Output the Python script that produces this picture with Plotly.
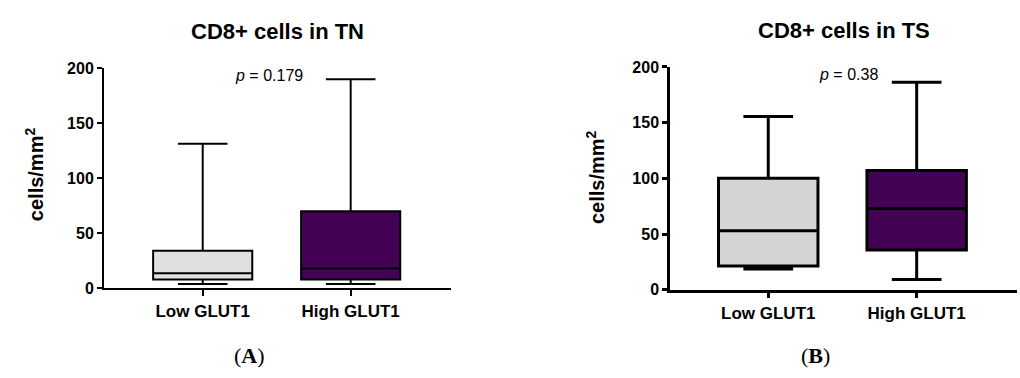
import plotly.graph_objects as go

W, H = 1020, 378

groups = ["Low GLUT1", "High GLUT1"]
group_pos = [0, 1]

# CD8+ density in TN (cells/mm^2): box summary per GLUT1 group
tn_lower = [3.7, 3.7]
tn_q1 = [7.8, 7.8]
tn_median = [13.6, 17.9]
tn_q3 = [33.9, 70.0]
tn_upper = [131.3, 190.0]

# CD8+ density in TS (cells/mm^2)
ts_lower = [18.6, 9.2]
ts_q1 = [21.4, 35.7]
ts_median = [52.9, 72.9]
ts_q3 = [100.0, 107.0]
ts_upper = [155.4, 186.3]

p_values = ["0.179", "0.38"]
titles = ["CD8+ cells in TN", "CD8+ cells in TS"]
panel_tags = ["A", "B"]
y_ticks = [0, 50, 100, 150, 200]

LOW_FILLS = ["#e0e0e0", "#d4d4d4"]
HIGH_FILL = "#430253"
SANS = "Liberation Sans, Arial, sans-serif"
SERIF = "Liberation Serif, Times New Roman, serif"


def px_x(x):
    return x / W


def px_y(y):
    return 1 - y / H


panels = [
    dict(stats=(tn_lower, tn_q1, tn_median, tn_q3, tn_upper),
         xdom=(104, 451), ydom=(293.3, 63.0), xr=[-0.667, 1.678], lw=2.0, axlw=2.0,
         title_xy=(277, 25), ylab_xy=(34, 174), p_xy=(233, 71), tag_xy=(249, 364)),
    dict(stats=(ts_lower, ts_q1, ts_median, ts_q3, ts_upper),
         xdom=(670, 1016.7), ydom=(295.0, 61.7), xr=[-0.662, 1.674], lw=3.0, axlw=2.5,
         title_xy=(843.5, 24), ylab_xy=(595, 177), p_xy=(817, 70), tag_xy=(815, 364)),
]

fig = go.Figure()
layout = dict(
    width=W, height=H, margin=dict(l=0, r=0, t=0, b=0),
    paper_bgcolor="white", plot_bgcolor="white", showlegend=False,
)
annotations = []

for k, pnl in enumerate(panels):
    sfx = "" if k == 0 else str(k + 1)
    lower, q1, med, q3, upper = pnl["stats"]
    for i, g in enumerate(groups):
        fig.add_trace(go.Box(
            x=[group_pos[i]], q1=[q1[i]], median=[med[i]], q3=[q3[i]],
            lowerfence=[lower[i]], upperfence=[upper[i]],
            orientation="v", name=g, boxpoints=False,
            fillcolor=LOW_FILLS[k] if i == 0 else HIGH_FILL,
            line=dict(color="black", width=pnl["lw"]),
            whiskerwidth=0.5, width=0.67,
            xaxis="x" + sfx, yaxis="y" + sfx, hoverinfo="skip",
        ))

    layout["xaxis" + sfx] = dict(
        domain=[px_x(pnl["xdom"][0]), px_x(pnl["xdom"][1])],
        range=pnl["xr"], anchor="y" + sfx,
        showgrid=False, zeroline=False,
        showline=True, linecolor="black", linewidth=pnl["axlw"],
        ticks="outside", ticklen=6, tickwidth=pnl["axlw"], tickcolor="black",
        tickvals=group_pos, ticktext=groups,
        tickfont=dict(family=SANS, size=17, color="black", weight="bold"),
    )
    layout["yaxis" + sfx] = dict(
        domain=[px_y(pnl["ydom"][0]), px_y(pnl["ydom"][1])],
        range=[0, 200], anchor="x" + sfx,
        showgrid=False, zeroline=False,
        showline=True, linecolor="black", linewidth=pnl["axlw"],
        ticks="outside", ticklen=5, tickwidth=pnl["axlw"], tickcolor="black",
        tickvals=y_ticks,
        tickfont=dict(family=SANS, size=16, color="black", weight="bold"),
    )

    annotations += [
        dict(text=titles[k], x=px_x(pnl["title_xy"][0]), y=px_y(pnl["title_xy"][1]),
             xref="paper", yref="paper", xanchor="center", yanchor="middle", showarrow=False,
             font=dict(family=SANS, size=22, color="black", weight="bold")),
        dict(text="cells/mm<sup>2</sup>", textangle=-90,
             x=px_x(pnl["ylab_xy"][0]), y=px_y(pnl["ylab_xy"][1]),
             xref="paper", yref="paper", xanchor="center", yanchor="middle", showarrow=False,
             font=dict(family=SANS, size=20, color="black", weight="bold")),
        dict(text="<i>p</i> = " + p_values[k], x=px_x(pnl["p_xy"][0]), y=px_y(pnl["p_xy"][1]),
             xref="paper", yref="paper", xanchor="left", yanchor="middle", showarrow=False,
             font=dict(family=SANS, size=16, color="black")),
        dict(text="(<b>" + panel_tags[k] + "</b>)", x=px_x(pnl["tag_xy"][0]), y=px_y(pnl["tag_xy"][1]),
             xref="paper", yref="paper", xanchor="center", yanchor="middle", showarrow=False,
             font=dict(family=SERIF, size=22, color="black")),
    ]

layout["annotations"] = annotations
fig.update_layout(**layout)
fig.write_html("out.html")
